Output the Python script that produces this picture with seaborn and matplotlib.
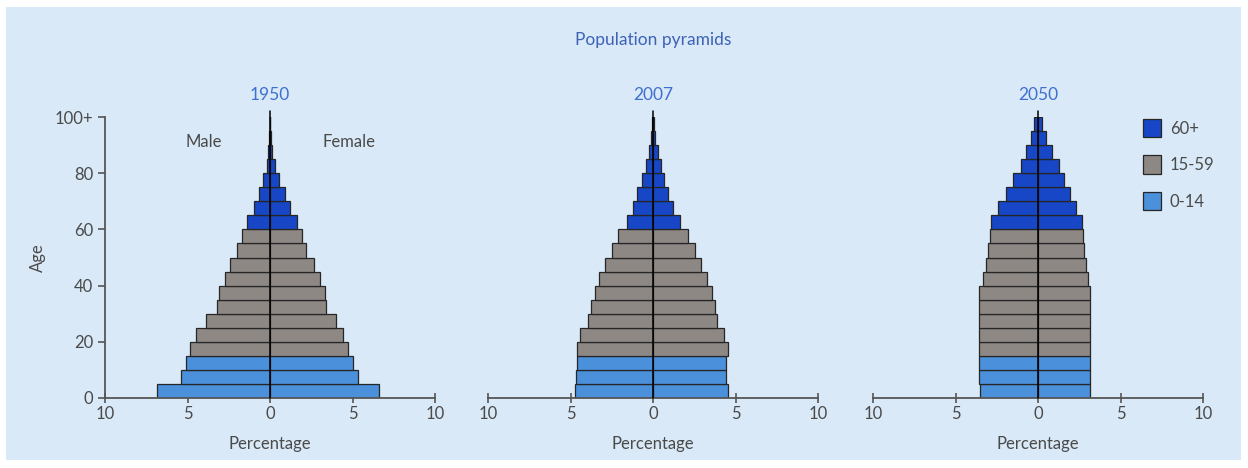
import numpy as np
import pandas as pd
import matplotlib
matplotlib.use("Agg")
import matplotlib.pyplot as plt
from matplotlib.patches import Patch, Rectangle
import seaborn as sns

# ---- data ----
AGE_MID = [2.5, 7.5, 12.5, 17.5, 22.5, 27.5, 32.5, 37.5, 42.5, 47.5, 52.5,
           57.5, 62.5, 67.5, 72.5, 77.5, 82.5, 87.5, 92.5, 97.5, 102.5]
AGE_GROUP = ["0-14"] * 3 + ["15-59"] * 9 + ["60+"] * 9

YEARS = ["1950", "2007", "2050"]

male_1950 = [6.83, 5.42, 5.08, 4.82, 4.46, 3.86, 3.21, 3.11, 2.75, 2.45, 2.01,
             1.71, 1.41, 1.00, 0.64, 0.40, 0.20, 0.10, 0.05, 0.02, 0.01]
female_1950 = [6.63, 5.32, 5.02, 4.72, 4.42, 3.98, 3.37, 3.31, 3.01, 2.65, 2.21,
               1.91, 1.65, 1.20, 0.90, 0.56, 0.30, 0.15, 0.06, 0.02, 0.01]

male_2007 = [4.73, 4.65, 4.59, 4.59, 4.44, 3.92, 3.78, 3.52, 3.27, 2.91, 2.46,
             2.10, 1.56, 1.21, 0.95, 0.65, 0.40, 0.24, 0.10, 0.04, 0.01]
female_2007 = [4.57, 4.44, 4.40, 4.57, 4.30, 3.90, 3.76, 3.60, 3.29, 2.89, 2.55,
               2.14, 1.62, 1.21, 0.93, 0.67, 0.46, 0.28, 0.15, 0.06, 0.01]

male_2050 = [3.52, 3.56, 3.56, 3.56, 3.56, 3.56, 3.60, 3.60, 3.36, 3.16, 3.06,
             2.91, 2.85, 2.45, 1.94, 1.54, 1.03, 0.73, 0.42, 0.22, 0.08]
female_2050 = [3.16, 3.16, 3.16, 3.16, 3.16, 3.16, 3.16, 3.16, 3.02, 2.91, 2.81,
               2.71, 2.67, 2.31, 1.94, 1.60, 1.26, 0.85, 0.49, 0.24, 0.08]

MALE = [male_1950, male_2007, male_2050]
FEMALE = [female_1950, female_2007, female_2050]

LEGEND_ORDER = ["60+", "15-59", "0-14"]
PALETTE = {"60+": "#1746c6", "15-59": "#8e8884", "0-14": "#4b90da"}

X_TICKS = [-10, -5, 0, 5, 10]
Y_TICKS = [0, 20, 40, 60, 80, 100]
Y_LABELS = ["0", "20", "40", "60", "80", "100+"]

BG = "#d9e9f7"
TEXT = "#4a4a4a"
BLUE_TXT = "#3f6fd0"

# ---- style ----
sns.set_style("ticks")
plt.rcParams["font.family"] = ["Lato", "DejaVu Sans"]

fig = plt.figure(figsize=(12.48, 4.68), dpi=100)
fig.patch.set_facecolor("white")
fig.patches.append(Rectangle((6 / 1248, 8 / 468), 1235 / 1248, 453 / 468,
                             transform=fig.transFigure, facecolor=BG,
                             edgecolor="none", zorder=-10))

lefts = [105, 488, 873]
for i, year in enumerate(YEARS):
    ax = fig.add_axes([lefts[i] / 1248, 70 / 468, 330 / 1248, 281 / 468])
    ax.set_facecolor("none")

    for sign, vals in [(-1, MALE[i]), (1, FEMALE[i])]:
        df = pd.DataFrame({"age": AGE_MID,
                           "pct": [sign * v for v in vals],
                           "group": AGE_GROUP})
        sns.barplot(data=df, x="pct", y="age", hue="group", palette=PALETTE,
                    orient="y", native_scale=True, dodge=False, width=1.0,
                    saturation=1, edgecolor="#262626", linewidth=0.9,
                    legend=False, ax=ax)

    ax.axvline(0, ymin=0, ymax=1.02, color="black", lw=1.1, clip_on=False, zorder=5)
    ax.set_xlim(-10, 10)
    ax.set_ylim(0, 100)
    ax.set_xticks(X_TICKS)
    ax.set_xticklabels([str(abs(t)) for t in X_TICKS])
    ax.set_xlabel("Percentage", fontsize=12, color=TEXT, labelpad=10)
    ax.set_title(year, fontsize=12.5, color=BLUE_TXT, pad=12)

    sns.despine(ax=ax, top=True, right=True, left=(i > 0))
    ax.spines["bottom"].set_color("#555555")
    ax.spines["bottom"].set_linewidth(1.3)
    ax.tick_params(axis="x", direction="inout", length=7, width=1.2,
                   color="#555555", labelsize=12, labelcolor=TEXT, pad=2)

    if i == 0:
        ax.set_yticks(Y_TICKS)
        ax.set_yticklabels(Y_LABELS)
        ax.set_ylabel("Age", fontsize=12, color=TEXT, labelpad=6)
        ax.spines["left"].set_color("#555555")
        ax.spines["left"].set_linewidth(1.3)
        ax.tick_params(axis="y", direction="out", length=5, width=1.2,
                       color="#555555", labelsize=12, labelcolor=TEXT)
        ax.text(-4.0, 91, "Male", ha="center", va="center", fontsize=12, color=TEXT)
        ax.text(4.8, 91, "Female", ha="center", va="center", fontsize=12, color=TEXT)
    else:
        ax.set_yticks([])
        ax.set_ylabel("")

fig.text(653 / 1248, 1 - 40 / 468, "Population pyramids", ha="center", va="center",
         fontsize=12.5, color="#3d62b8")

handles = [Patch(facecolor=PALETTE[g], edgecolor="#262626", linewidth=0.9) for g in LEGEND_ORDER]
fig.legend(handles, LEGEND_ORDER, loc="upper left",
           bbox_to_anchor=(1128 / 1248, 1 - 104 / 468), frameon=False,
           fontsize=12, labelcolor=TEXT, handlelength=1.1, handleheight=1.3,
           handletextpad=0.5, labelspacing=1.1)

fig.savefig("out.png", dpi=100, facecolor=fig.get_facecolor())
